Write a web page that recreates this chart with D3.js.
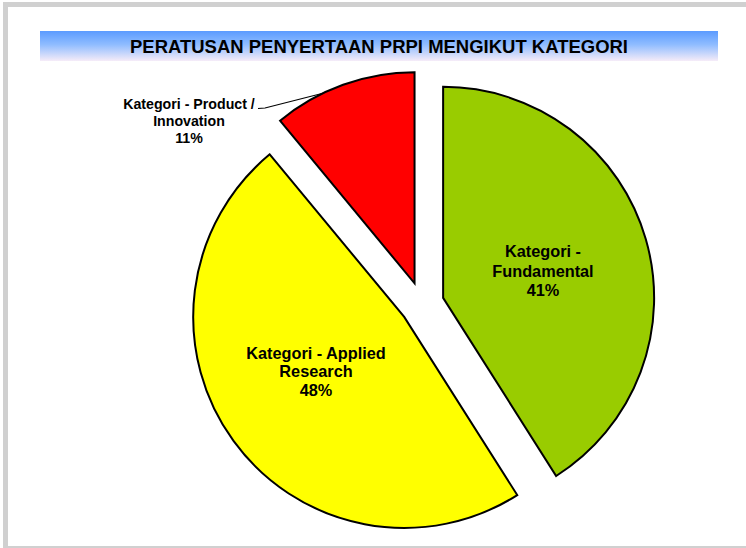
<!DOCTYPE html>
<html>
<head>
<meta charset="utf-8">
<script src="https://cdn.jsdelivr.net/npm/d3@7"></script>
<style>
  body { margin: 0; background: #fff; }
  text { font-family: "Liberation Sans", Arial, sans-serif; font-weight: bold; }
</style>
</head>
<body>
<div id="chart"></div>
<script>
// chart data
var categories = ["Kategori - Fundamental", "Kategori - Applied Research", "Kategori - Product / Innovation"];
var shares = [41, 48, 11];
var labelLines = [
    ["Kategori -", "Fundamental", "41%"],
    ["Kategori - Applied", "Research", "48%"],
    ["Kategori - Product /", "Innovation", "11%"]
];
var colors = ["#99cc00", "#ffff00", "#ff0000"];

var svgWidth = 746;
var svgHeight = 548;

var svg = d3.select("#chart")
    .append("svg")
    .attr("width", svgWidth)
    .attr("height", svgHeight);

// outer gray frame
svg.append("rect")
    .attr("x", 5.5)
    .attr("y", 4.5)
    .attr("width", 800)
    .attr("height", 544)
    .attr("fill", "none")
    .attr("stroke", "#d0d0d0")
    .attr("stroke-width", 5);

// title bar gradient
var defs = svg.append("defs");
var grad = defs.append("linearGradient")
    .attr("id", "titleGrad")
    .attr("x1", 0).attr("y1", 0).attr("x2", 0).attr("y2", 1);
grad.append("stop").attr("offset", "0%").attr("stop-color", "#5b9bff");
grad.append("stop").attr("offset", "45%").attr("stop-color", "#8fbcff");
grad.append("stop").attr("offset", "100%").attr("stop-color", "#f6ecf8");

svg.append("rect")
    .attr("x", 40)
    .attr("y", 31)
    .attr("width", 678)
    .attr("height", 30)
    .attr("fill", "url(#titleGrad)");

svg.append("text")
    .attr("x", 379)
    .attr("y", 52.5)
    .attr("text-anchor", "middle")
    .style("font-family", "'Liberation Sans Narrow', 'Liberation Sans', Arial, sans-serif")
    .style("font-size", "17.5px")
    .attr("textLength", 498)
    .attr("lengthAdjust", "spacingAndGlyphs")
    .text("PERATUSAN PENYERTAAN PRPI MENGIKUT KATEGORI");

// pie
var cx = 422, cy = 304;
var radius = 211;
var explode = 22;

var pie = d3.pie().sort(null).value(d => d);
var arc = d3.arc().innerRadius(0).outerRadius(radius);
var arcs = pie(shares);

var pieGroup = svg.append("g")
    .attr("transform", `translate(${cx},${cy})`);

function offset(d, dist) {
    var mid = (d.startAngle + d.endAngle) / 2;
    return [Math.sin(mid) * dist, -Math.cos(mid) * dist];
}

var slices = pieGroup.selectAll("g.slice")
    .data(arcs)
    .enter()
    .append("g")
    .attr("class", "slice")
    .attr("transform", d => `translate(${offset(d, explode)})`);

slices.append("path")
    .attr("d", arc)
    .attr("fill", (d, i) => colors[i])
    .attr("stroke", "#000")
    .attr("stroke-width", 2)
    .attr("stroke-linejoin", "miter");

// inside labels
var labelPos = [[121, -47, 19.5], [-106, 55, 18.5]];
slices.filter((d, i) => i < 2)
    .append("text")
    .attr("text-anchor", "middle")
    .style("font-size", "16.3px")
    .each(function(d, i) {
        var t = d3.select(this);
        var o = offset(d, explode);
        labelLines[i].forEach(function(line, j) {
            t.append("tspan")
                .attr("x", labelPos[i][0] - o[0])
                .attr("y", labelPos[i][1] - o[1] + j * labelPos[i][2])
                .text(line);
        });
    });

// outside label for product / innovation
var red = arcs[2];
var redOff = offset(red, explode);
var leaderAngle = red.startAngle + (red.endAngle - red.startAngle) * 0.35;
var arcPt = [redOff[0] + Math.sin(leaderAngle) * radius, redOff[1] - Math.cos(leaderAngle) * radius];

pieGroup.append("path")
    .attr("d", `M${arcPt[0]},${arcPt[1]} L${265 - cx},${108 - cy} L${258 - cx},${108.5 - cy}`)
    .attr("fill", "none")
    .attr("stroke", "#000")
    .attr("stroke-width", 1.2);

var outText = svg.append("text")
    .attr("text-anchor", "middle")
    .style("font-size", "14.2px")
    .attr("font-size", 14);
labelLines[2].forEach(function(line, j) {
    outText.append("tspan")
        .attr("x", 189)
        .attr("y", 109 + j * 17)
        .text(line);
});
</script>
</body>
</html>
